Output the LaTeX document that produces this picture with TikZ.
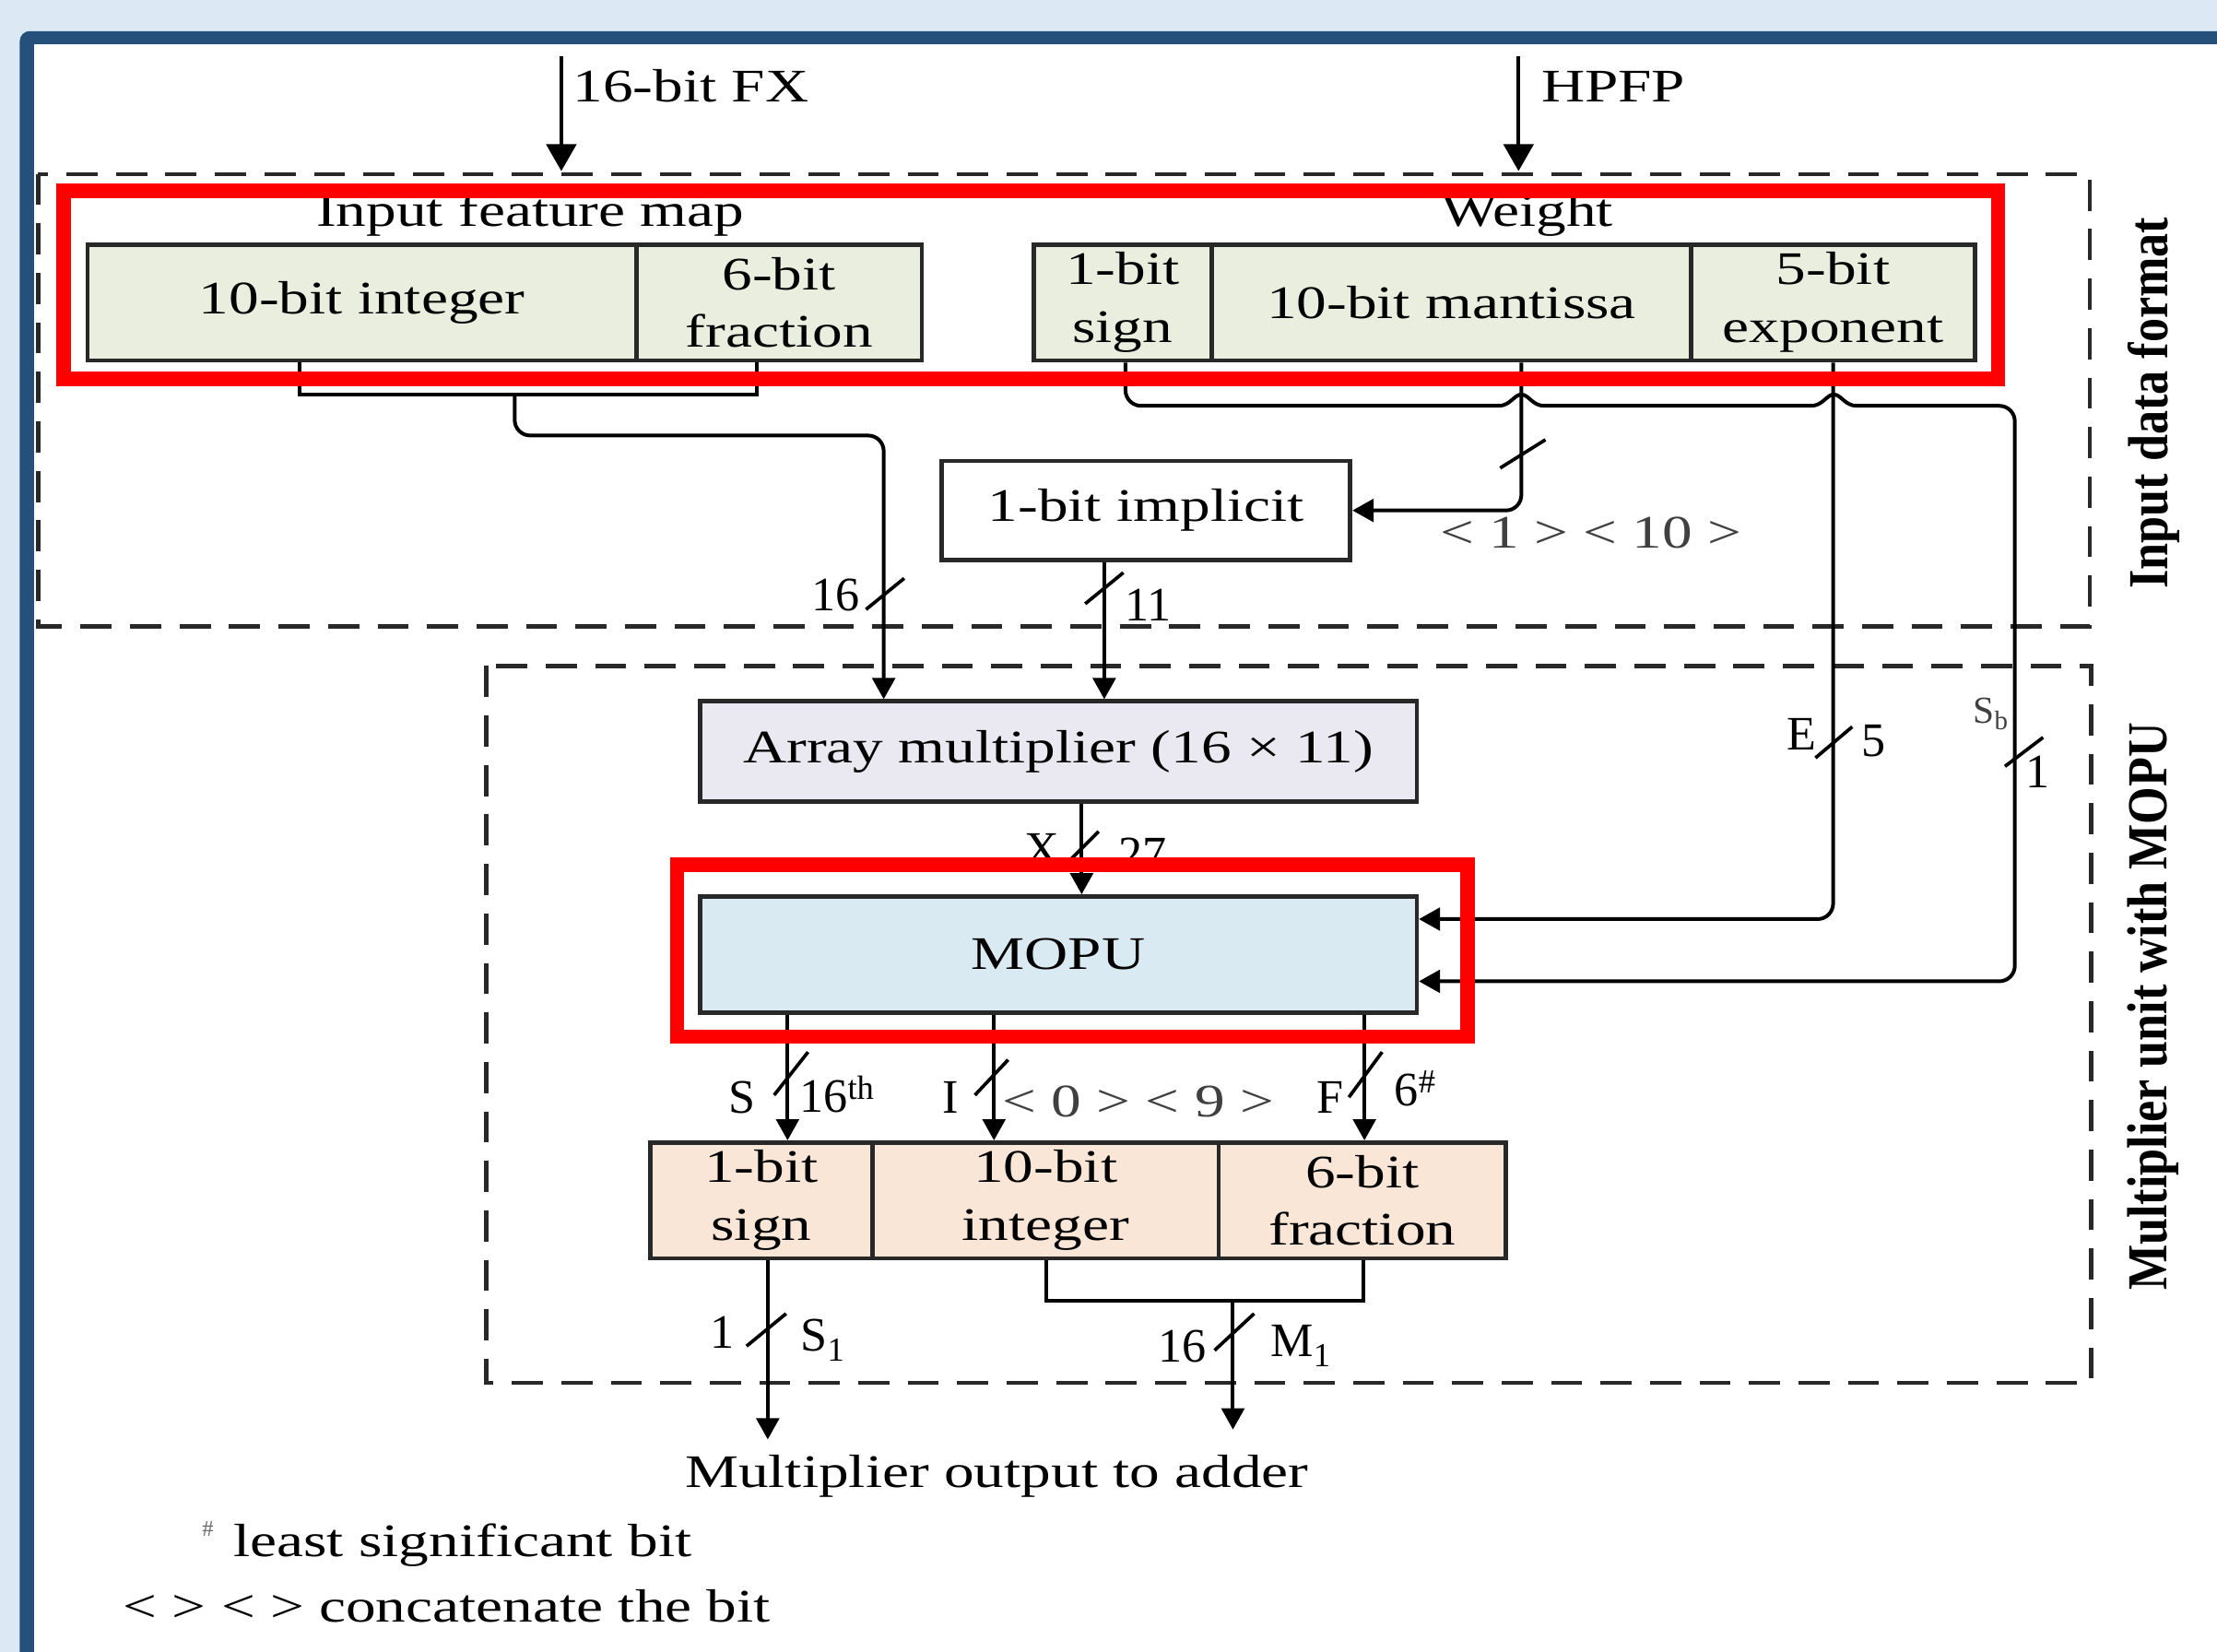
\documentclass[tikz,border=0pt]{standalone}
\usepackage{fontspec}
\setmainfont{Liberation Serif}[FakeStretch=1.29]
\newfontfamily\plainfont{Liberation Serif}
\newfontfamily\rotfont{Liberation Serif}[FakeStretch=0.85]
\usetikzlibrary{arrows.meta,calc}
\definecolor{bgblue}{RGB}{220,232,244}
\definecolor{frameblue}{RGB}{36,80,122}
\definecolor{greenfill}{RGB}{233,238,222}
\definecolor{lavfill}{RGB}{234,232,240}
\definecolor{mopufill}{RGB}{218,234,242}
\definecolor{peachfill}{RGB}{250,230,215}
\definecolor{edgegray}{RGB}{40,40,40}
\newcommand\mainfs{\fontsize{33}{41}\selectfont}
\newcommand\labfs{\plainfont\fontsize{34}{40}\selectfont}
\begin{document}
\begin{tikzpicture}[x=1pt,y=-1pt,
  wire/.style={line width=2.6pt, draw=black},
  arr/.style={-{Triangle[length=15pt,width=16pt]}},
  bigarr/.style={-{Triangle[length=19pt,width=21pt]}},
  cell/.style={draw=edgegray, line width=3pt, inner sep=0pt, align=center, font=\mainfs},
  dashbox/.style={draw=edgegray, line width=2.8pt, dash pattern=on 22pt off 13pt},
  redbox/.style={draw=red, line width=10pt},
  slashmk/.style={line width=2.4pt, draw=black},
  txt/.style={inner sep=0pt, font=\mainfs},
  lbl/.style={inner sep=0pt, font=\labfs},
  rotlbl/.style={inner sep=0pt, rotate=90, font=\rotfont\bfseries\fontsize{40}{44}\selectfont}
]
\useasboundingbox (0,0) rectangle (1568,1168);
\clip (0,0) rectangle (1568,1168);
\fill[bgblue] (0,0) rectangle (1568,1168);
\fill[frameblue,rounded corners=7pt] (14,22) rectangle (1620,1220);
\fill[white] (24,31) rectangle (1620,1220);

% dashed regions
\draw[dashbox] (27,123) rectangle (1478,443);
\draw[dashbox] (344,471) rectangle (1479,978);

% top inputs
\coordinate (fxsrc) at (397,40);
\coordinate (fxdst) at (397,121);
\coordinate (hpsrc) at (1074,40);
\coordinate (hpdst) at (1074,121);
\draw[wire,bigarr] (fxsrc) -- (fxdst);
\draw[wire,bigarr] (hpsrc) -- (hpdst);
\node[txt,anchor=west] (fxlbl) at (405,61) {16-bit FX};
\node[txt,anchor=west] (hplbl) at (1090,61) {HPFP};

% input data format cells
\node[txt] (ifmlbl) at (375,152) {Input feature map};
\node[txt] (wlbl) at (1080,152) {Weight};
\node[cell,fill=greenfill,minimum width=388pt,minimum height=82pt] (ifmint) at (256,214) {10-bit integer};
\node[cell,fill=greenfill,minimum width=202pt,minimum height=82pt] (ifmfrac) at (551,214) {6-bit\\fraction};
\node[cell,fill=greenfill,minimum width=126pt,minimum height=82pt] (wsign) at (794,214) {1-bit\\sign};
\node[cell,fill=greenfill,minimum width=339pt,minimum height=82pt] (wmant) at (1026.5,214) {10-bit mantissa};
\node[cell,fill=greenfill,minimum width=201pt,minimum height=82pt] (wexp) at (1296.5,214) {5-bit\\exponent};

\node[cell,fill=white,minimum width=289pt,minimum height=70pt] (imp) at (810.5,361) {1-bit implicit};
\node[cell,fill=lavfill,minimum width=507pt,minimum height=71pt] (amul) at (748.5,531.5) {Array multiplier (16 × 11)};
\node[cell,fill=mopufill,minimum width=507pt,minimum height=82pt] (mopu) at (748.5,675) {MOPU};
\node[cell,fill=peachfill,minimum width=157pt,minimum height=82pt] (osign) at (538.5,849) {1-bit\\sign};
\node[cell,fill=peachfill,minimum width=245pt,minimum height=82pt] (oint) at (739.5,849) {10-bit\\integer};
\node[cell,fill=peachfill,minimum width=203pt,minimum height=82pt] (ofrac) at (963.5,849) {6-bit\\fraction};

% IFM bracket and route to multiplier
\draw[wire] (212,0 |- ifmint.south) -- (212,279) -- (535,279) -- (535,0 |- ifmfrac.south);
\draw[wire,arr,rounded corners=11pt] (364,279) -- (364,308) -- (625,308) -- (625,0 |- amul.north);
\draw[wire,arr] (781,0 |- imp.south) -- (781,0 |- amul.north);

% mantissa to implicit
\draw[wire,arr,rounded corners=11pt] (1076,0 |- wmant.south) |- (imp.east);
% exponent to MOPU
\draw[wire,arr,rounded corners=11pt] (wexp.south) |- (mopu.east |- 0,650);
% sign to MOPU with hops
\draw[wire,rounded corners=11pt] (796,0 |- wsign.south) -- (796,287) -- (1060,287);
\draw[wire] (1060,287) .. controls (1068,287) and (1071,279) .. (1076,279)
  .. controls (1081,279) and (1084,287) .. (1092,287) -- (1281,287)
  .. controls (1289,287) and (1292,279) .. (1297,279)
  .. controls (1302,279) and (1305,287) .. (1313,287);
\draw[wire,arr,rounded corners=11pt] (1313,287) -- (1425,287) -- (1425,694) -- (mopu.east |- 0,694);

% multiplier to MOPU
\draw[wire,arr] (765,0 |- amul.south) -- (765,0 |- mopu.north);
% MOPU outputs
\draw[wire,arr] (557,0 |- mopu.south) -- (557,0 |- osign.north);
\draw[wire,arr] (703,0 |- mopu.south) -- (703,0 |- oint.north);
\draw[wire,arr] (965,0 |- mopu.south) -- (965,0 |- ofrac.north);

% final outputs
\coordinate (outS) at (543,1018);
\coordinate (outM) at (872,1011);
\draw[wire,arr] (543,0 |- osign.south) -- (outS);
\draw[wire] (740,0 |- oint.south) -- (740,920) -- (964,920) -- (964,0 |- ofrac.south);
\draw[wire,arr] (872,920) -- (outM);

% bus width slashes
\draw[slashmk] (612.5,431) -- (639.5,409);
\draw[slashmk] (767.5,427) -- (794.5,405);
\draw[slashmk] (1061,331) -- (1093,311);
\draw[slashmk] (1284,536) -- (1310,514);
\draw[slashmk] (1418,542) -- (1445,521.5);
\draw[slashmk] (753,612) -- (777,588);
\draw[slashmk] (547.5,774.5) -- (571.5,744);
\draw[slashmk] (689.5,774.5) -- (713,749.5);
\draw[slashmk] (954,776) -- (977.5,744);
\draw[slashmk] (528,952) -- (556,929);
\draw[slashmk] (859,955) -- (887,929);

% labels
\node[lbl] (l16) at (591,421) {16};
\node[lbl] (l11) at (812,428) {11};
\node[txt,text=black!75] (lcat1) at (1125,377) {< 1 > < 10 >};
\node[lbl] (lE) at (1274,519) {E};
\node[lbl] (l5) at (1325,524) {5};
\node[inner sep=0pt,text=black!75,font=\plainfont\fontsize{27}{28}\selectfont] (lSb) at (1408,505) {S\textsubscript{b}};
\node[lbl] (l1b) at (1441,546) {1};
\node[lbl] (lX) at (737,601) {X};
\node[lbl] (l27) at (808,604) {27};
\node[lbl] (lS) at (525,776) {S};
\node[lbl] (l16th) at (592,774) {16\textsuperscript{th}};
\node[lbl] (lI) at (672,776) {I};
\node[txt,text=black!75] (lcat2) at (805,779) {< 0 > < 9 >};
\node[lbl] (lF) at (941,776) {F};
\node[lbl] (l6) at (1001,770) {6\textsuperscript{\#}};
\node[lbl] (l1s) at (511,942) {1};
\node[lbl] (lS1) at (582,948) {S\textsubscript{1}};
\node[lbl] (l16m) at (836,952) {16};
\node[lbl] (lM1) at (920,952) {M\textsubscript{1}};

\node[txt] (outlbl) at (705,1044) {Multiplier output to adder};
\node[inner sep=0pt,text=black!60,font=\plainfont\fontsize{16}{18}\selectfont] (fnhash) at (147,1081) {\#};
\node[txt,anchor=west] (fn1) at (165,1093) {least significant bit};
\node[txt,anchor=west] (fn2) at (87,1136) {< > < > concatenate the bit};

\node[rotlbl] (rot1) at (1523,285) {Input data format};
\node[rotlbl] (rot2) at (1523,712) {Multiplier unit with MOPU};

% red highlight boxes
\draw[redbox] (45,135) rectangle (1413,268);
\draw[redbox] (479,611.5) rectangle (1038,733);
\end{tikzpicture}
\end{document}
